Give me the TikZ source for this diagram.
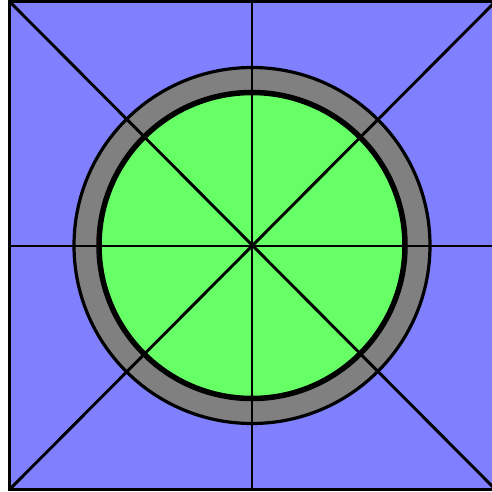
\documentclass[tikz,border=0pt]{standalone}
\definecolor{bluefill}{HTML}{8080FF}
\definecolor{grayring}{HTML}{808080}
\definecolor{greenfill}{HTML}{66FF66}
\begin{document}
\begin{tikzpicture}[x=1pt,y=-1pt,
  thinline/.style={draw=black,line width=2.9pt},
  borderline/.style={draw=black,line width=3.4pt}]
\useasboundingbox (0,0) rectangle (492,492);
\clip (0,0) rectangle (492,492);
\coordinate (c) at (252,245.5);
\coordinate (tl) at (9.5,1.5);
\coordinate (tr) at (495.5,1.5);
\coordinate (bl) at (9.5,489.5);
\coordinate (br) at (495.5,489.5);
\coordinate (tm) at (252,1.5);
\coordinate (bm) at (252,489.5);
\coordinate (lm) at (9.5,246);
\coordinate (rm) at (495.5,246);
\fill[bluefill] (tl) rectangle (br);
\fill[grayring] (c) circle[radius=178];
\draw[black,line width=3.2pt] (c) circle[radius=178];
\fill[greenfill] (c) circle[radius=153];
\draw[black,line width=5.5pt] (c) circle[radius=153];
\draw[thinline] (tl) -- (br);
\draw[thinline] (tr) -- (bl);
\draw[thinline] (tm) -- (bm);
\draw[thinline] (lm) -- (rm);
\draw[borderline] (tl) rectangle (br);
\end{tikzpicture}
\end{document}
